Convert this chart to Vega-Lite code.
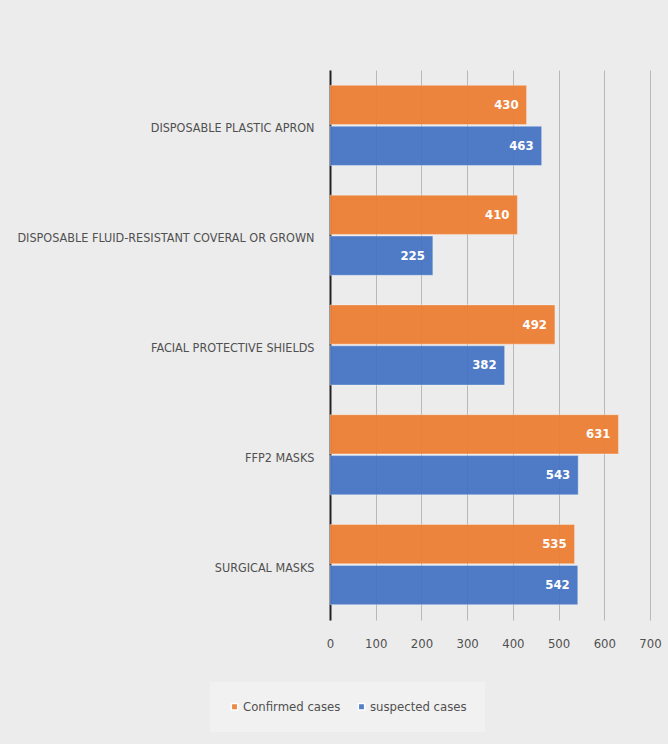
{
  "$schema": "https://vega.github.io/schema/vega-lite/v6.json",
  "autosize": "none",
  "padding": {"left": 330, "top": 70, "right": 18, "bottom": 124},
  "width": 320,
  "height": 550,
  "background": "#ececec",
  "config": {
    "view": {"stroke": null},
    "font": "DejaVu Sans Condensed, sans-serif"
  },
  "data": {
    "values": [
      {"item": "DISPOSABLE PLASTIC APRON", "series": "Confirmed cases", "value": 430},
      {"item": "DISPOSABLE PLASTIC APRON", "series": "suspected cases", "value": 463},
      {"item": "DISPOSABLE FLUID-RESISTANT COVERAL OR GROWN", "series": "Confirmed cases", "value": 410},
      {"item": "DISPOSABLE FLUID-RESISTANT COVERAL OR GROWN", "series": "suspected cases", "value": 225},
      {"item": "FACIAL PROTECTIVE  SHIELDS", "series": "Confirmed cases", "value": 492},
      {"item": "FACIAL PROTECTIVE  SHIELDS", "series": "suspected cases", "value": 382},
      {"item": "FFP2 MASKS", "series": "Confirmed cases", "value": 631},
      {"item": "FFP2 MASKS", "series": "suspected cases", "value": 543},
      {"item": "SURGICAL MASKS", "series": "Confirmed cases", "value": 535},
      {"item": "SURGICAL MASKS", "series": "suspected cases", "value": 542}
    ]
  },
  "encoding": {
    "y": {
      "field": "item", "type": "nominal", "sort": null,
      "scale": {"paddingInner": 0.27, "paddingOuter": 0.14},
      "axis": {
        "title": null, "ticks": false, "domainColor": "#222222", "domainWidth": 2,
        "labelPadding": 16, "labelFontSize": 12.5, "labelColor": "#505050", "labelLimit": 330, "labelOffset": 3
      }
    },
    "yOffset": {"field": "series", "type": "nominal", "sort": ["Confirmed cases", "suspected cases"], "scale": {"paddingInner": 0.04}},
    "x": {
      "field": "value", "type": "quantitative",
      "scale": {"domain": [0, 700], "nice": false},
      "axis": {
        "title": null, "domain": false, "ticks": false, "values": [0, 100, 200, 300, 400, 500, 600, 700],
        "labelOverlap": false, "labelFlush": false,
        "gridColor": "#b8b8b8", "gridWidth": 1, "labelPadding": 17, "labelFontSize": 13, "labelColor": "#505050"
      }
    }
  },
  "layer": [
    {
      "mark": {"type": "bar", "opacity": 0.93, "stroke": "#ffffff", "strokeOpacity": 0.35, "strokeWidth": 1},
      "encoding": {
        "color": {
          "field": "series", "type": "nominal",
          "scale": {"domain": ["Confirmed cases", "suspected cases"], "range": ["#ED7D31", "#4472C4"]},
          "legend": {
            "title": null, "orient": "none", "direction": "horizontal",
            "legendX": -120, "legendY": 612,
            "fillColor": "#f1f1f1", "padding": 18,
            "symbolType": "square", "symbolSize": 40, "symbolOpacity": 0.9,
            "labelFontSize": 13, "labelColor": "#505050", "labelOffset": 2, "columnPadding": 14
          }
        }
      }
    },
    {
      "mark": {"type": "text", "align": "right", "dx": -8, "color": "#ffffff", "fontWeight": "bold", "fontSize": 13},
      "encoding": {"text": {"field": "value", "type": "quantitative"}}
    }
  ]
}
